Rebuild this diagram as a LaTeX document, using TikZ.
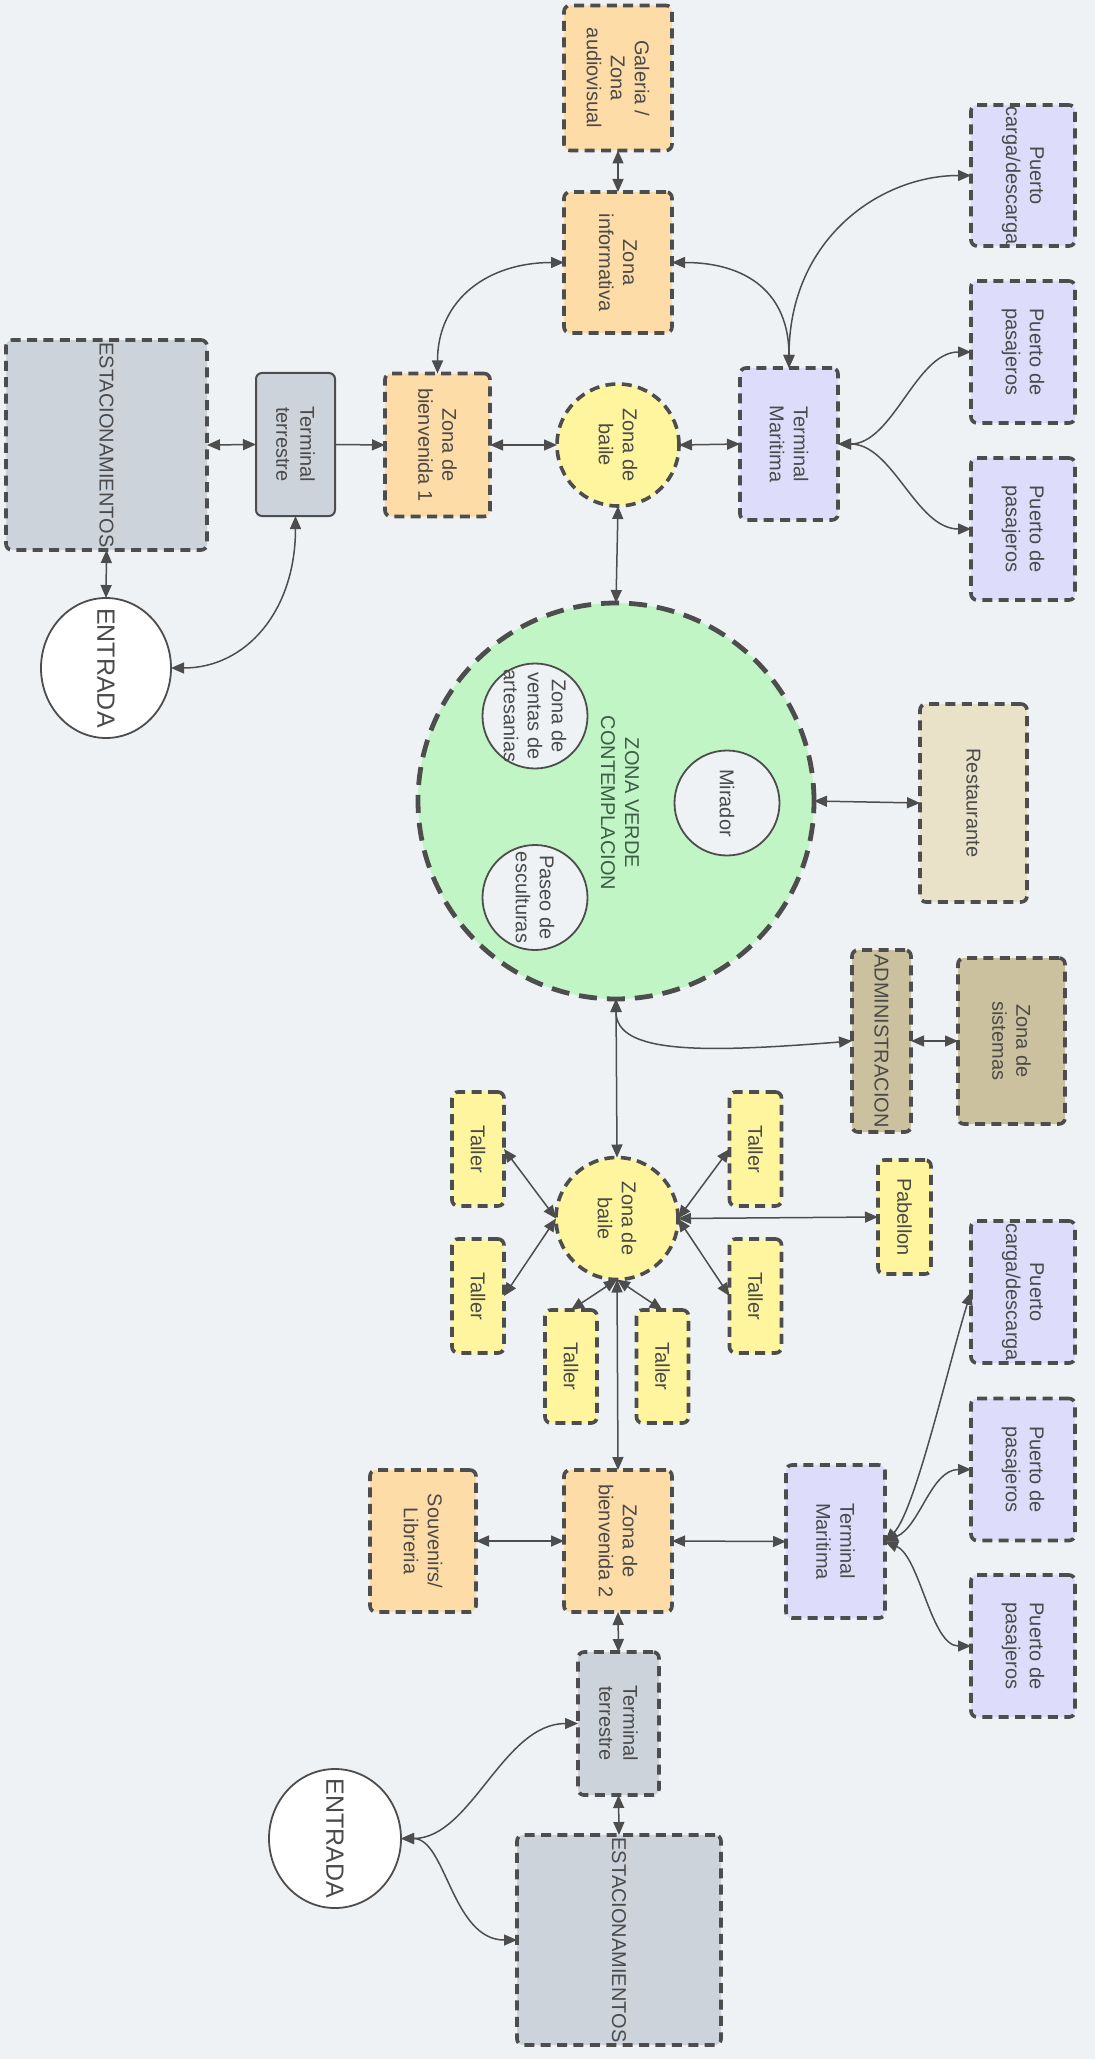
\documentclass[tikz,border=0pt]{standalone}
\usepackage{fontspec}
\setmainfont{Liberation Sans}
\usetikzlibrary{arrows.meta,shapes.geometric}
\definecolor{bg}{HTML}{EFF2F5}
\definecolor{bord}{HTML}{4D4D4D}
\definecolor{txtc}{HTML}{4A4A4A}
\definecolor{corange}{HTML}{FDDCA8}
\definecolor{cgray}{HTML}{CDD3DB}
\definecolor{cpurple}{HTML}{DDDDFB}
\definecolor{cyellow}{HTML}{FFF59E}
\definecolor{cgreen}{HTML}{C1F5C5}
\definecolor{cgreentxt}{HTML}{3E5C47}
\definecolor{crest}{HTML}{E9E2C9}
\definecolor{cadm}{HTML}{CCC19E}
\newcommand\zn[7]{\node[#1, minimum width=#5*0.5pt, minimum height=#6*0.5pt] (#2) at (#3,#4) {};\node[txt] (#2-t) at (#2.center) {#7};}
\tikzset{
  shp/.style={draw=bord, inner sep=0pt, outer sep=0pt},
  dsh/.style={shp, line width=1.8pt, dash pattern=on 5pt off 3.2pt, rounded corners=3pt},
  obox/.style={dsh, fill=corange},
  gbox/.style={dsh, fill=cgray},
  pbox/.style={dsh, fill=cpurple},
  ybox/.style={dsh, fill=cyellow},
  rbox/.style={dsh, fill=crest},
  abox/.style={dsh, fill=cadm},
  sgbox/.style={shp, line width=1pt, rounded corners=3pt, fill=cgray},
  ycirc/.style={shp, circle, line width=1.8pt, dash pattern=on 5pt off 3.2pt, fill=cyellow},
  gcirc/.style={shp, circle, line width=2.4pt, dash pattern=on 9pt off 5pt, fill=cgreen},
  wcirc/.style={shp, circle, line width=0.9pt, fill=bg},
  went/.style={shp, ellipse, line width=0.9pt, fill=white},
  txt/.style={rotate=-90, align=center, text=txtc, font=\fontsize{10}{12}\selectfont, inner sep=0pt},
  conn/.style={draw=bord, line width=0.75pt},
}
\begin{document}
\begin{tikzpicture}[x=0.5pt, y=-0.5pt, >={Triangle[length=6.5pt,width=5.5pt]}]
\fill[bg] (0,0) rectangle (1095,2059);
\useasboundingbox (0,0) rectangle (1095,2059);

% ---------- upper part ----------
\zn{gbox}{est1}{106.5}{445}{201}{210}{ESTACIONAMIENTOS}
\zn{sgbox}{tt1}{295.5}{444.5}{79}{143}{Terminal\\terrestre}
\zn{obox}{bv1}{437.5}{445}{105}{143}{Zona de\\bienvenida 1}
\zn{ycirc}{zb1}{618}{445}{122}{122}{Zona de\\baile}
\zn{pbox}{tm1}{789}{444}{98}{152}{Terminal\\Maritima}
\zn{obox}{zi}{618}{262.5}{108}{141}{Zona\\informativa}
\zn{obox}{gal}{618}{78}{108}{145}{Galeria /\\Zona\\audiovisual}
\zn{pbox}{pc1}{1023}{175.5}{104}{141}{Puerto\\carga/descarga}
\zn{pbox}{pp1}{1023}{352}{104}{142}{Puerto de\\pasajeros}
\zn{pbox}{pp2}{1023}{529}{104}{142}{Puerto de\\pasajeros}
\node[went, minimum width=130*0.5pt, minimum height=140*0.5pt] (en1) at (106,668) {};
\node[txt, font=\fontsize{12.5}{14}\selectfont] (en1-t) at (en1.center) {ENTRADA};

% ---------- green zone ----------
\node[gcirc, minimum size=396*0.5pt] (green) at (616,801) {};
\node[txt, text=cgreentxt] (green-t) at (620,803) {ZONA VERDE\\CONTEMPLACION};
\zn{wcirc}{mir}{727}{803}{105}{105}{Mirador}
\zn{wcirc}{zva}{535}{716}{105}{105}{Zona de\\ventas de\\artesanias}
\zn{wcirc}{pes}{535}{897.5}{105}{105}{Paseo de\\esculturas}
\zn{rbox}{rest}{973.5}{803}{107}{198}{Restaurante}
\zn{abox}{adm}{881.5}{1041}{59}{182}{ADMINISTRACION}
\zn{abox}{zs}{1011.5}{1041}{107}{166}{Zona de\\sistemas}

% ---------- lower part ----------
\zn{ycirc}{zb2}{617}{1218.5}{122}{122}{Zona de\\baile}
\zn{ybox}{tl1}{478}{1149}{52}{114}{Taller}
\zn{ybox}{tr1}{755.5}{1149}{52}{114}{Taller}
\zn{ybox}{tl2}{478}{1296}{52}{114}{Taller}
\zn{ybox}{tr2}{755.5}{1296}{52}{114}{Taller}
\zn{ybox}{tb1}{571}{1366.5}{52}{113}{Taller}
\zn{ybox}{tb2}{662.5}{1366.5}{52}{113}{Taller}
\zn{ybox}{pab}{904.5}{1217}{53}{114}{Pabellon}
\zn{obox}{bv2}{618}{1541}{108}{142}{Zona de\\bienvenida 2}
\zn{obox}{sou}{423}{1541}{106}{142}{Souvenirs/\\Libreria}
\zn{pbox}{tm2}{835.5}{1541.5}{99}{153}{Terminal\\Maritima}
\zn{pbox}{pc2}{1023}{1292}{104}{142}{Puerto\\carga/descarga}
\zn{pbox}{pp3}{1023}{1469.5}{104}{142}{Puerto de\\pasajeros}
\zn{pbox}{pp4}{1023}{1646}{104}{142}{Puerto de\\pasajeros}
\zn{gbox}{tt2}{618.5}{1723.5}{81}{143}{Terminal\\terrestre}
\node[went, minimum width=132*0.5pt, minimum height=139*0.5pt] (en2) at (335,1838.5) {};
\node[txt, font=\fontsize{12.5}{14}\selectfont] (en2-t) at (en2.center) {ENTRADA};
\zn{gbox}{est2}{619}{1940}{204}{210}{ESTACIONAMIENTOS}

% ---------- connectors upper ----------
\draw[conn,<->] (est1.east) -- (tt1.west);
\draw[conn,->] (tt1.east) -- (bv1.west);
\draw[conn,<->] (bv1.east) -- (zb1.west);
\draw[conn,<->] (zb1.east) -- (tm1.west);
\draw[conn,<->] (bv1.north) .. controls +(0,-75) and +(-75,0) .. (zi.west);
\draw[conn,<->] (zi.east) .. controls +(75,0) and +(0,-75) .. (tm1.north);
\draw[conn,<->] (gal.south) -- (zi.north);
\draw[conn,<->] (tm1.north) .. controls +(0,-130) and +(-90,0) .. (pc1.west);
\draw[conn,<->] (tm1.east) .. controls +(55,0) and +(-55,0) .. (pp1.west);
\draw[conn,<->] (tm1.east) .. controls +(55,0) and +(-55,0) .. (pp2.west);
\draw[conn,<->] (est1.south) -- (en1.north);
\draw[conn,<->] (tt1.south) .. controls +(0,95) and +(75,0) .. (en1.east);
\draw[conn,<->] (zb1.south) -- (green.north);

% ---------- connectors middle ----------
\draw[conn,<->] (green.east) -- (rest.west);
\draw[conn,<->] (green.south) -- (zb2.north);
\draw[conn,<->] (green.south) .. controls +(0,55) and +(-150,12) .. (adm.west);
\draw[conn,<->] (adm.east) -- (zs.west);

% ---------- connectors lower ----------
\draw[conn,<->] (zb2.west) -- (tl1.east);
\draw[conn,<->] (zb2.west) -- (tl2.east);
\draw[conn,<->] (zb2.east) -- (tr1.west);
\draw[conn,<->] (zb2.east) -- (tr2.west);
\draw[conn,<->] (zb2.east) -- (pab.west);
\draw[conn,<->] (zb2.south) -- (tb1.north);
\draw[conn,<->] (zb2.south) -- (tb2.north);
\draw[conn,<->] (zb2.south) -- (bv2.north);
\draw[conn,<->] (bv2.west) -- (sou.east);
\draw[conn,<->] (bv2.east) -- (tm2.west);
\draw[conn,<->] (tm2.east) .. controls +(30,-30) and +(-22,70) .. (pc2.west);
\draw[conn,<->] (tm2.east) .. controls +(35,-15) and +(-40,0) .. (pp3.west);
\draw[conn,<->] (tm2.east) .. controls +(35,15) and +(-40,0) .. (pp4.west);
\draw[conn,<->] (bv2.south) -- (tt2.north);
\draw[conn,<->] (tt2.south) -- (est2.north);
\draw[conn,<->] (en2.east) .. controls +(70,0) and +(-75,0) .. (tt2.west);
\draw[conn,<->] (en2.east) .. controls +(45,0) and +(-65,0) .. (est2.west);
\end{tikzpicture}
\end{document}
